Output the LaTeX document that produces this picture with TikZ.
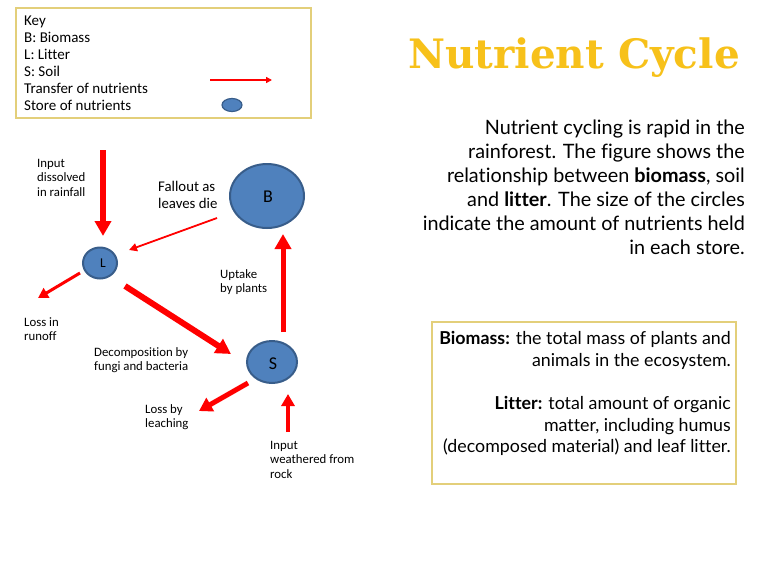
\documentclass[tikz,border=0pt]{standalone}
\usepackage{fontspec}
\setmainfont[Ligatures=NoCommon]{Carlito}
\newfontfamily\latofont[Ligatures=NoCommon]{Lato}
\newfontfamily\titlefont{DejaVu Serif}
\usetikzlibrary{arrows.meta,shapes.geometric}
\definecolor{arrred}{HTML}{FF0000}
\definecolor{storefill}{HTML}{4F81BD}
\definecolor{storeline}{HTML}{385D8A}
\definecolor{boxline}{HTML}{E3CF7A}
\definecolor{titlecol}{HTML}{F7C11A}
\tikzset{
  store/.style={ellipse, draw=storeline, fill=storefill, line width=2pt, inner sep=0pt},
  bigflow/.style={draw=arrred, line width=#1, -{Triangle[length=15pt,width=16pt]}},
  thinflow/.style={draw=arrred, line width=#1, -{Triangle[length=8pt,width=8pt]}},
  lbl/.style={anchor=north west, inner sep=0pt, align=left, font=\fontsize{12.8}{14.5}\selectfont},
  keybox/.style={draw=boxline, line width=1.2pt},
}
\begin{document}
\begin{tikzpicture}[x=1pt,y=-1pt]
\useasboundingbox (0,0) rectangle (768,576);
\fill[white] (0,0) rectangle (768,576);
% key
\draw[keybox] (16,8) rectangle (311,118);
\node[anchor=north west, inner sep=0pt, align=left, font=\fontsize{15}{17}\selectfont] (keytext) at (24,15.5)
  {Key\\B: Biomass\\L: Litter\\S: Soil\\Transfer of nutrients\\Store of nutrients};
\coordinate (keya) at (210,80);
\coordinate (keyb) at (272,80);
\draw[draw=arrred, line width=1.6pt, -{Triangle[length=6pt,width=6pt]}] (keya) -- (keyb);
\node[store, minimum width=20pt, minimum height=13pt, line width=1.2pt] (keystore) at (232,105) {};
% title
\node[anchor=base east, inner sep=0pt, text=titlecol, font=\titlefont\bfseries\fontsize{40.5}{44}\selectfont] (title) at (740,68) {Nutrient Cycle};
% paragraph
\node[anchor=north east, inner sep=0pt, align=right, font=\latofont\fontsize{19.8}{24}\selectfont] (para) at (745,119.5)
  {Nutrient cycling is rapid in the\\rainforest. The figure shows the\\relationship between \textbf{biomass}, soil\\and \textbf{litter}. The size of the circles\\indicate the amount of nutrients held\\in each store.};
% definitions box
\draw[keybox] (432,322) rectangle (736,484);
\node[anchor=north east, inner sep=0pt, align=right, font=\latofont\fontsize{17.8}{21.7}\selectfont] (defs) at (731,331)
  {\textbf{Biomass:} the total mass of plants and\\animals in the ecosystem.\\[21.7pt]\textbf{Litter:} total amount of organic\\matter, including humus\\(decomposed material) and leaf litter.};
% stores
\node[store, minimum width=74pt, minimum height=64pt] (B) at (267,196) {};
\node[font=\fontsize{18}{20}\selectfont, inner sep=0pt] (Bl) at (268,197) {B};
\node[store, minimum width=34pt, minimum height=31pt] (L) at (100,263) {};
\node[font=\fontsize{13.5}{14}\selectfont, inner sep=0pt] (Ll) at (103,263) {L};
\node[store, minimum width=50pt, minimum height=42pt] (S) at (272,362) {};
\node[font=\fontsize{18}{20}\selectfont, inner sep=0pt] (Sl) at (273,364) {S};
% free ends
\coordinate (rain) at (103,150);
\coordinate (rainend) at (103,236);
\coordinate (fall) at (217,218);
\coordinate (fallend) at (129,250);
\coordinate (upst) at (283,332);
\coordinate (upend) at (283,234);
\coordinate (runst) at (80,273);
\coordinate (runend) at (38,298);
\coordinate (decst) at (125,286);
\coordinate (decend) at (231,354);
\coordinate (leachst) at (248,383);
\coordinate (leachend) at (199,411);
\coordinate (rockst) at (288,432);
\coordinate (rockend) at (288,394);
% arrows
\draw[bigflow=6pt] (rain) -- (rainend);
\draw[thinflow=1.8pt] (fall) -- (fallend);
\draw[bigflow=5pt] (upst) -- (upend);
\draw[draw=arrred, line width=3pt, -{Triangle[length=10pt,width=11pt]}] (runst) -- (runend);
\draw[bigflow=6pt] (decst) -- (decend);
\draw[draw=arrred, line width=5pt, -{Triangle[length=13pt,width=15pt]}] (leachst) -- (leachend);
\draw[draw=arrred, line width=4pt, -{Triangle[length=12pt,width=13pt]}] (rockst) -- (rockend);
% labels
\node[lbl] (lrain) at (37,159) {Input\\dissolved\\in rainfall};
\node[lbl, font=\fontsize{14.8}{17}\selectfont] (lfall) at (158,181) {Fallout as\\leaves die};
\node[lbl] (lup) at (220,269) {Uptake\\by plants};
\node[lbl] (lrun) at (24,317) {Loss in\\runoff};
\node[lbl] (ldec) at (94,347) {Decomposition by\\fungi and bacteria};
\node[lbl] (lleach) at (145,404) {Loss by\\leaching};
\node[lbl] (lrock) at (270,441) {Input\\weathered from\\rock};
\end{tikzpicture}
\end{document}
